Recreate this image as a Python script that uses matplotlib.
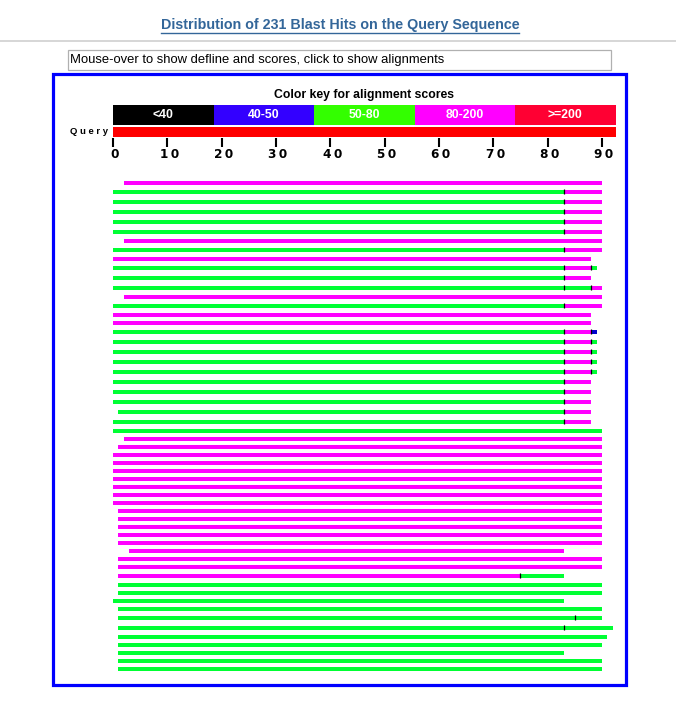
import matplotlib
matplotlib.use("Agg")
import matplotlib.pyplot as plt
from matplotlib.patches import Rectangle

plt.rcParams['font.family'] = ['Liberation Sans', 'DejaVu Sans']

# ---------------- data ----------------
page_title = "Distribution of 231 Blast Hits on the Query Sequence"
hint_text = "Mouse-over to show defline and scores, click to show alignments"
key_title = "Color key for alignment scores"
key_labels = ["<40", "40-50", "50-80", "80-200", ">=200"]
key_colors = ["#000000", "#3300ff", "#33ff00", "#ff00ff", "#ff0033"]
query_length = 92.5
tick_values = [0, 10, 20, 30, 40, 50, 60, 70, 80, 90]

# score class -> bar colour of the hit segments
seg_colors = {"b": "#0000cc", "g": "#00ff33", "m": "#ff00ff"}

# each hit: list of (start, end, score class)
G83M90 = [(0, 83, "g"), (83, 90, "m")]
G83M88 = [(0, 83, "g"), (83, 88, "m")]
G83M88G89 = [(0, 83, "g"), (83, 88, "m"), (88, 89, "g")]
hits = [
    [(2, 90, "m")],
    G83M90, G83M90, G83M90, G83M90, G83M90,
    [(2, 90, "m")],
    G83M90,
    [(0, 88, "m")],
    G83M88G89,
    G83M88,
    [(0, 83, "g"), (83, 88, "g"), (88, 90, "m")],
    [(2, 90, "m")],
    G83M90,
    [(0, 88, "m")],
    [(0, 88, "m")],
    [(0, 83, "g"), (83, 88, "m"), (88, 89, "b")],
    G83M88G89, G83M88G89, G83M88G89, G83M88G89,
    G83M88, G83M88, G83M88,
    [(1, 83, "g"), (83, 88, "m")],
    G83M88,
    [(0, 90, "g")],
    [(2, 90, "m")],
    [(1, 90, "m")],
    [(0, 90, "m")], [(0, 90, "m")], [(0, 90, "m")], [(0, 90, "m")],
    [(0, 90, "m")], [(0, 90, "m")], [(0, 90, "m")],
    [(1, 90, "m")], [(1, 90, "m")], [(1, 90, "m")], [(1, 90, "m")], [(1, 90, "m")],
    [(3, 83, "m")],
    [(1, 90, "m")], [(1, 90, "m")],
    [(1, 75, "m"), (75, 83, "g")],
    [(1, 90, "g")], [(1, 90, "g")],
    [(0, 83, "g")],
    [(1, 90, "g")],
    [(1, 85, "g"), (85, 90, "g")],
    [(1, 83, "g"), (83, 92, "g")],
    [(1, 91, "g")],
    [(1, 90, "g")],
    [(1, 83, "g")],
    [(1, 90, "g")], [(1, 90, "g")],
]

# ---------------- figure ----------------
W, H = 676, 703
fig = plt.figure(figsize=(W / 100, H / 100), dpi=100)
fig.patch.set_facecolor("white")

# page decoration axes (pixel coordinates)
page = fig.add_axes([0, 0, 1, 1])
page.set_xlim(0, W)
page.set_ylim(H, 0)
page.axis("off")

t = page.text(340, 25.0, page_title, ha="center", va="center",
              color="#336699", fontsize=10.3, fontweight="bold")
page.axhline(40.5, color="#d0d0d0", lw=1.2)
page.add_patch(Rectangle((67.5, 49.5), 543.5, 20.5, fc="white",
                         ec="#b0b0b0", lw=0.9))
page.text(70.5, 60.5, hint_text, ha="left", va="center", fontsize=9.4,
          color="black")
page.add_patch(Rectangle((53, 74), 573, 611, fill=False, ec="#0000ff", lw=2.3))

# data axes: x in query coordinates, y in layout pixels
ppu = 5.433
x0 = 113.0
ax = fig.add_axes([0, 0, 1, 1], facecolor="none")
ax.set_xlim(-x0 / ppu, (W - x0) / ppu)
ax.set_ylim(H, 0)
ax.axis("off")

# color key
nk = len(key_labels)
kw = query_length / nk
for i, (lab, col) in enumerate(zip(key_labels, key_colors)):
    ax.barh(114.8, kw, left=i * kw, height=19.5, color=col, lw=0)
    ax.text(i * kw + kw / 2, 115, lab, ha="center", va="center",
            color="white", fontsize=8.8, fontweight="bold")
ax.text(query_length / 2, 95, key_title, ha="center", va="center",
        fontsize=8.8, fontweight="bold", color="black")

# query bar and ruler
ax.barh(131.8, query_length, left=0, height=9.7, color="#ff0000", lw=0)
ax.text(-0.9, 131.5, "Q u e r y", ha="right", va="center", fontsize=6.8,
        fontweight="bold")
ax.vlines(tick_values, 138.3, 146.8, color="black", lw=1.5)
for v in tick_values:
    lab = "\u2009".join(str(v))
    ax.text(v + 0.35, 155, lab, ha="center", va="center", fontsize=8.7,
            fontweight="bold", color="black", family="DejaVu Sans")

# hits
top = 178.7
for segs in hits:
    h = 10 if len(segs) > 1 else 8
    yc = top + h / 2
    for (s, e, c) in segs:
        ax.barh(yc, e - s, left=s, height=4, color=seg_colors[c], lw=0)
    for (s, e, c) in segs[1:]:
        ax.vlines(s, yc - 2.7, yc + 2.7, color="black", lw=0.9)
    top += h

# underline the title (link style)
fig.canvas.draw()
bb = t.get_window_extent()
inv = page.transData.inverted()
(xa, _), (xb, _) = inv.transform([(bb.x0, 0), (bb.x1, 0)])
page.plot([xa, xb], [33, 33], color="#336699", lw=1.0)

fig.savefig("out.png", dpi=100, facecolor="white")
